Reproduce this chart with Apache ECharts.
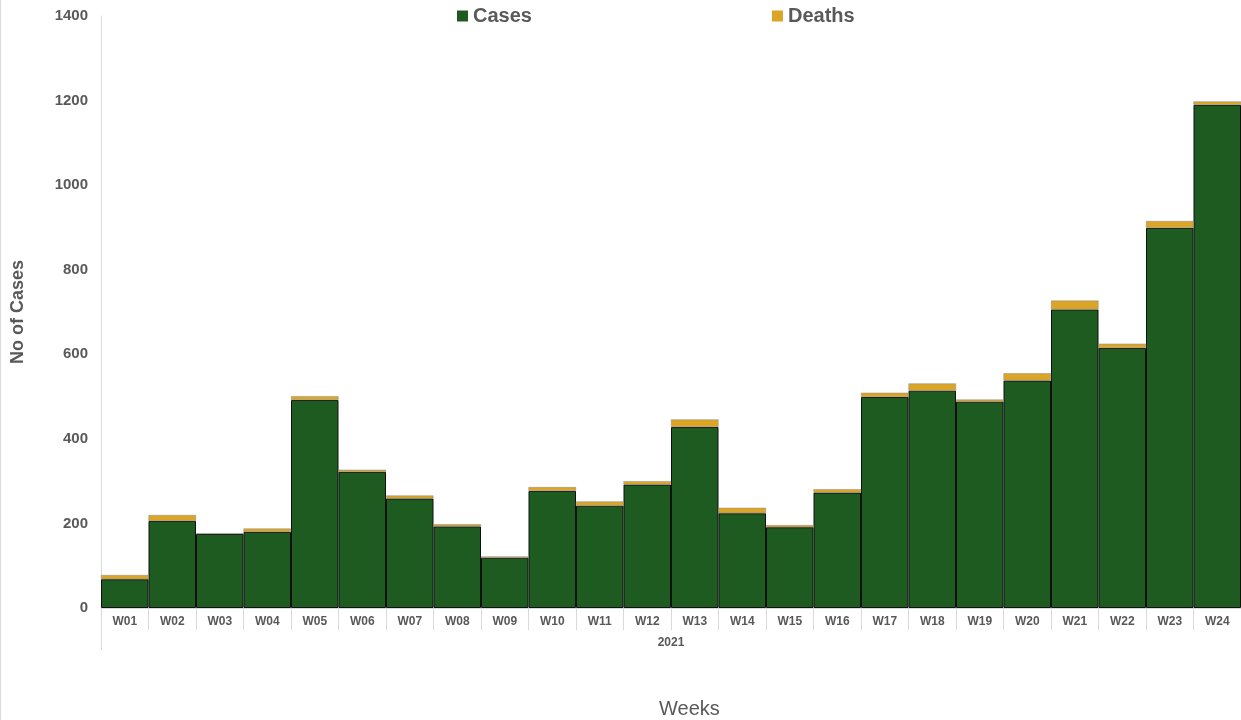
<!DOCTYPE html>
<html>
<head>
<meta charset="utf-8">
<script src="https://cdn.jsdelivr.net/npm/echarts@6/dist/echarts.min.js"></script>
<style>
  html, body { margin: 0; padding: 0; background: #fff; }
  #chart { width: 1241px; height: 720px; border-left: 1px solid #d9d9d9; box-sizing: border-box; }
</style>
</head>
<body>
<div id="chart"></div>
<script>
var weeks  = ['W01','W02','W03','W04','W05','W06','W07','W08','W09','W10','W11','W12',
              'W13','W14','W15','W16','W17','W18','W19','W20','W21','W22','W23','W24'];
var cases  = [68, 206, 175, 180, 492, 322, 259, 193, 119, 277, 242, 292,
              428, 224, 191, 273, 499, 514, 488, 538, 706, 615, 899, 1190];
var deaths = [10, 14, 2, 8, 9, 5, 7, 5, 3, 9, 10, 8,
              18, 13, 5, 8, 10, 17, 5, 17, 21, 10, 16, 8];
var years  = ['2021'];
var yTicks = { min: 0, max: 1400, step: 200 };

var grey = '#595959';
var font = '"Liberation Sans", Arial, sans-serif';

var chart = echarts.init(document.getElementById('chart'));

var option = {
    animation: false,
    textStyle: { fontFamily: font },
    title: {
        text: 'Weeks',
        left: 653,
        top: 694,
        textStyle: { fontSize: 20, fontWeight: 'normal', color: grey, fontFamily: font }
    },
    legend: {
        left: 451,
        top: 1,
        itemWidth: 11,
        itemHeight: 11,
        itemGap: 240,
        icon: 'rect',
        itemStyle: { borderWidth: 0 },
        textStyle: { fontSize: 20, fontWeight: 'bold', color: grey, fontFamily: font },
        data: ['Cases', 'Deaths']
    },
    grid: { left: 98, right: 0, top: 16, bottom: 112, containLabel: false },
    xAxis: [{
        type: 'category',
        data: weeks,
        position: 'bottom',
        axisLine: { show: true, lineStyle: { color: '#d9d9d9', width: 1 } },
        axisTick: { show: true, interval: 0, length: 22, lineStyle: { color: '#d9d9d9' } },
        axisLabel: { interval: 0, fontSize: 12, fontWeight: 'bold', color: grey, margin: 8 }
    }, {
        type: 'category',
        data: years,
        position: 'bottom',
        offset: 22,
        axisLine: { show: false },
        axisTick: { show: true, length: 20, lineStyle: { color: '#d9d9d9' } },
        axisLabel: { fontSize: 12, fontWeight: 'bold', color: grey, margin: 7 }
    }],
    yAxis: {
        type: 'value',
        min: yTicks.min,
        max: yTicks.max,
        interval: yTicks.step,
        name: 'No of Cases',
        nameLocation: 'middle',
        nameGap: 74,
        nameTextStyle: { fontSize: 18, fontWeight: 'bold', color: grey, fontFamily: font },
        axisLine: { show: true, lineStyle: { color: '#d9d9d9' } },
        axisTick: { show: false },
        splitLine: { show: false },
        axisLabel: {
            fontSize: 15, fontWeight: 'bold', color: grey, margin: 13,
            formatter: function (v) { return String(v); }
        }
    },
    series: [{
        name: 'Cases',
        type: 'bar',
        stack: 'total',
        barCategoryGap: '0%',
        data: cases,
        itemStyle: { color: '#1e5b21', borderColor: '#101010', borderWidth: 1 }
    }, {
        name: 'Deaths',
        type: 'bar',
        stack: 'total',
        barCategoryGap: '0%',
        data: deaths,
        itemStyle: { color: '#dba627', borderColor: '#8a8a8a', borderWidth: 0.5 }
    }]
};

chart.setOption(option);
</script>
</body>
</html>
